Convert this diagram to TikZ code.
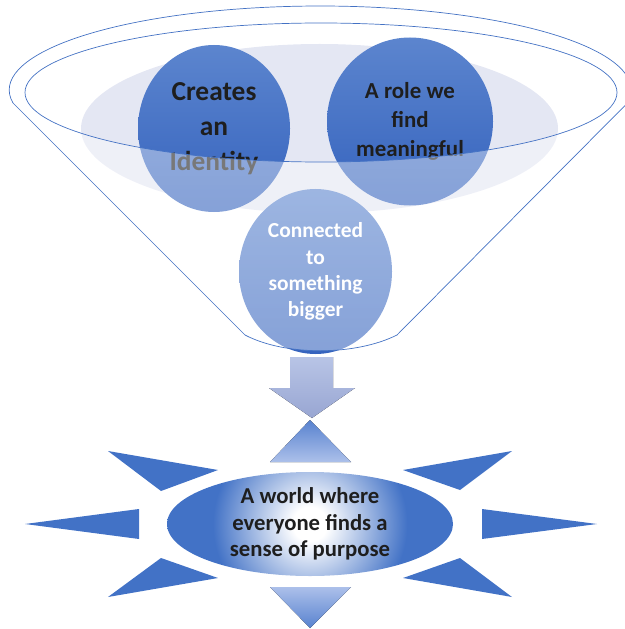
\documentclass[tikz,border=0pt]{standalone}
\usepackage{fontspec}
\setmainfont{Carlito}
\usetikzlibrary{shapes.geometric}
\definecolor{rayblue}{RGB}{66,114,198}
\definecolor{rimblue}{RGB}{68,114,196}
\definecolor{bubtop}{RGB}{92,133,206}
\definecolor{bubbot}{RGB}{53,99,190}
\definecolor{haze}{RGB}{228,231,243}
\definecolor{arrtop}{RGB}{184,196,230}
\definecolor{arrbot}{RGB}{152,166,210}
\definecolor{tripale}{RGB}{172,192,234}
\definecolor{trideep}{RGB}{88,130,207}
\definecolor{ink}{RGB}{30,30,30}
\pgfdeclareradialshading{sunglow}{\pgfpointorigin}{color(0bp)=(white); color(3bp)=(white); color(17bp)=(rayblue); color(50bp)=(rayblue)}

\begin{document}
\begin{tikzpicture}[x=1bp,y=-1bp,
  bubble/.style={ellipse, inner sep=0pt, top color=bubtop, bottom color=bubbot, align=center},
  rim/.style={draw=rimblue, line width=0.7bp}]
\useasboundingbox (0,0) rectangle (625,629);

% funnel contents
\fill[haze] (319.5,128.5) ellipse [x radius=238.5, y radius=84.5];
\node[bubble, minimum width=152bp, minimum height=167bp, text=ink,
  font=\fontsize{27.5}{35}\selectfont\bfseries] (identity) at (214,128.5) {Creates\\an\\Identity};
\node[bubble, minimum width=166bp, minimum height=168bp, text=ink,
  font=\fontsize{23}{29}\selectfont\bfseries] (role) at (410,121.5) {A role we\\find\\meaningful};
\node[bubble, minimum width=153bp, minimum height=165bp, text=white,
  font=\fontsize{21.5}{26.5}\selectfont\bfseries] (bigger) at (315.5,271.5) {Connected\\to\\something\\bigger};

% funnel front and rim
\fill[white, fill opacity=0.4, even odd rule] (13,103) arc[start angle=171.1, end angle=368.9, x radius=311, y radius=84]
  -- (397,335) .. controls (355,356) and (285,356) .. (245,335) -- cycle
  (321,92.5) ellipse [x radius=296, y radius=69.5];
\draw[rim] (13,103) arc[start angle=171.1, end angle=368.9, x radius=311, y radius=84]
  -- (397,335) .. controls (355,356) and (285,356) .. (245,335) -- cycle;
\draw[rim] (321,92.5) ellipse [x radius=296, y radius=69.5];

% arrow down
\fill[top color=arrtop, bottom color=arrbot] (290,357) -- (333,357) -- (333,388) -- (355,388)
  -- (312,418) -- (269,388) -- (290,388) -- cycle;

% sun
\fill[top color=trideep, bottom color=tripale] (310,420) -- (351,462) -- (270,462) -- cycle;
\fill[top color=tripale, bottom color=trideep] (270,587) -- (351,587) -- (310,628) -- cycle;
\fill[rayblue] (108,451) -- (218,470) -- (161,491) -- cycle;
\fill[rayblue] (25,524) -- (139,509) -- (139,539) -- cycle;
\fill[rayblue] (108,597) -- (218,578) -- (161,558) -- cycle;
\fill[rayblue] (512,451) -- (403,470) -- (460,490) -- cycle;
\fill[rayblue] (597,524) -- (482,509) -- (482,539) -- cycle;
\fill[rayblue] (512,597) -- (403,578) -- (460,558) -- cycle;
\node[ellipse, minimum width=286bp, minimum height=104bp, inner sep=0pt,
  path picture={\shade[shading=sunglow] (path picture bounding box.center) circle [radius=143bp];}] (world) at (310,524) {};
\node[align=center, text=ink, font=\fontsize{22.8}{26.5}\selectfont\bfseries] (purpose) at (world.center)
  {A world where\\everyone finds a\\sense of purpose};

\end{tikzpicture}
\end{document}
